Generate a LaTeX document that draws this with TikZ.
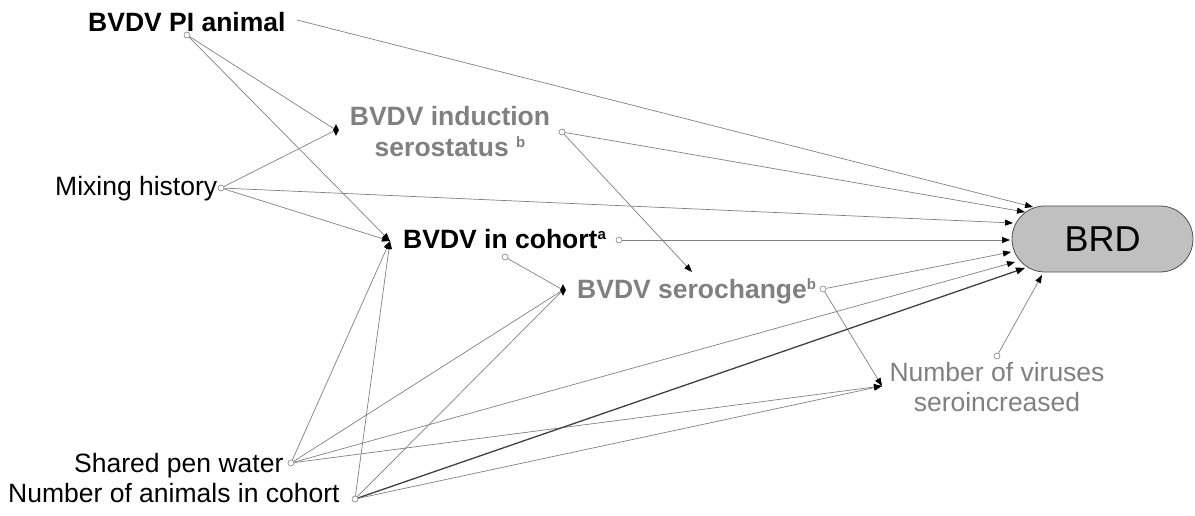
\documentclass[tikz,border=0pt]{standalone}
\usepackage{fontspec}
\setmainfont{Liberation Sans}
\usetikzlibrary{arrows.meta,shapes.geometric,shapes.misc}
\definecolor{linegray}{HTML}{808080}
\definecolor{textgray}{HTML}{808080}
\definecolor{brdfill}{HTML}{C0C0C0}
\definecolor{brdline}{HTML}{505050}
\newcommand\supmark[1]{\raisebox{9pt}{\fontsize{15}{15}\selectfont #1}}
\tikzset{
  lbl/.style={inner sep=0pt, font=\fontsize{26.5}{31}\selectfont},
  port/.style={circle, draw=linegray, fill=white, line width=0.6pt, inner sep=0pt, minimum size=6pt},
  joint/.style={diamond, fill=black, inner sep=0pt, minimum width=6pt, minimum height=12pt},
  link/.style={draw=linegray, line width=0.7pt},
  arr/.style={link, -{Triangle[length=8pt,width=6pt,color=black]}},
  heavy/.style={draw=black!75, line width=1.3pt, -{Triangle[length=9pt,width=7pt,color=black]}},
}
\begin{document}
\begin{tikzpicture}[x=1pt, y=-1pt]
\useasboundingbox (0,0) rectangle (1195,516);

% variable labels
\node[lbl, anchor=base west] (pi) at (88,32) {\textbf{BVDV PI animal}};
\node[lbl, anchor=center, align=center, text=textgray, font=\fontsize{26.5}{31}\selectfont\bfseries] (ind) at (450,132) {BVDV induction\\serostatus \supmark{b}};
\node[lbl, anchor=base west] (mix) at (55,196) {Mixing history};
\node[lbl, anchor=base west] (coh) at (403,248) {\textbf{BVDV in cohort\supmark{a}}};
\node[lbl, anchor=base west, text=textgray] (ser) at (577,298) {\textbf{BVDV serochange\supmark{b}}};
\node[lbl, anchor=center, align=center, text=textgray, font=\fontsize{26.5}{30}\selectfont] (vir) at (997,387) {Number of viruses\\seroincreased};
\node[lbl, anchor=base west] (wat) at (74,472) {Shared pen water};
\node[lbl, anchor=base west] (ani) at (8,502) {Number of animals in cohort};

% outcome
\node[rounded rectangle, draw=brdline, fill=brdfill, line width=0.8pt, minimum width=181pt, minimum height=66pt, inner sep=0pt, font=\fontsize{36}{40}\selectfont] (brd) at (1102.5,239) {BRD};

% outgoing ports
\node[port] (pi-o)  at (187,35) {};
\node[port] (mix-o) at (221,188) {};
\node[port] (ind-o) at (562,132) {};
\node[port] (coh-s) at (505,257) {};
\node[port] (coh-o) at (619,240) {};
\node[port] (ser-o) at (823,289) {};
\node[port] (vir-o) at (997,356) {};
\node[port] (wat-o) at (291,463) {};
\node[port] (ani-o) at (355,499) {};
\coordinate (pi-r) at (297,20);

% incoming points
\coordinate (coh-in) at (390,241);
\coordinate (ser-tip) at (692,272);
\coordinate (vir-in) at (882,386);
\coordinate (b1) at (1033,207);
\coordinate (b2) at (1025,212);
\coordinate (b3) at (1013,223);
\coordinate (b4) at (1010,240);
\coordinate (b5) at (1011,252);
\coordinate (b6) at (1015,262);
\coordinate (b7) at (1025,268);
\coordinate (b8) at (1042,275);

% joints
\node[joint] (ind-in) at (336,130) {};
\node[joint] (ser-in) at (563,290) {};

% connectors
\draw[arr] (pi-r) -- (b1);
\draw[link] (pi-o) -- (ind-in);
\draw[arr] (pi-o) -- (coh-in);
\draw[link] (mix-o) -- (ind-in);
\draw[arr] (mix-o) -- (coh-in);
\draw[arr] (mix-o) -- (b3);
\draw[arr] (ind-o) -- (b2);
\draw[arr] (ind-o) -- (ser-tip);
\draw[arr] (coh-o) -- (b4);
\draw[link] (coh-s) -- (ser-in);
\draw[arr] (ser-o) -- (b5);
\draw[arr] (ser-o) -- (vir-in);
\draw[arr] (vir-o) -- (b8);
\draw[arr] (wat-o) -- (coh-in);
\draw[link] (wat-o) -- (ser-in);
\draw[arr] (wat-o) -- (b6);
\draw[arr] (wat-o) -- (vir-in);
\draw[arr] (ani-o) -- (coh-in);
\draw[link] (ani-o) -- (ser-in);
\draw[heavy] (ani-o) -- (b7);
\draw[arr] (ani-o) -- (vir-in);
\end{tikzpicture}
\end{document}
